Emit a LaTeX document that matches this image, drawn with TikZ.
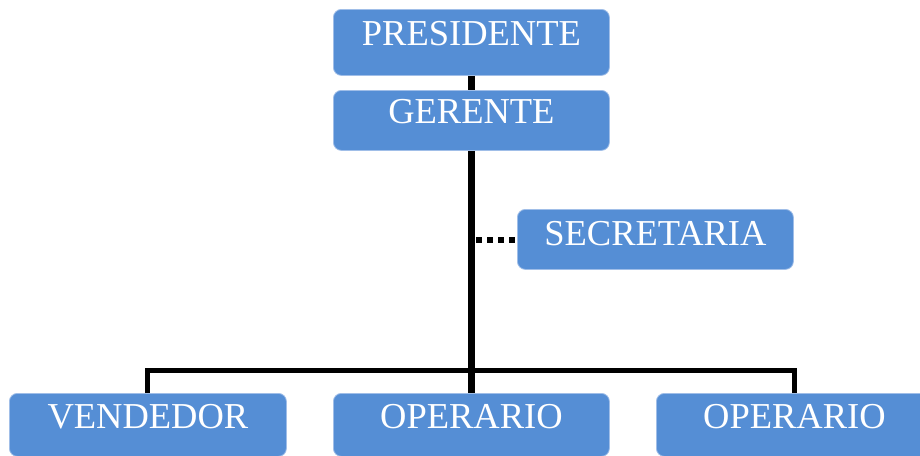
\documentclass[tikz,border=0pt]{standalone}
\usepackage{fontspec}
\setmainfont{Liberation Serif}
\definecolor{boxblue}{RGB}{85,142,213}
\definecolor{boxedge}{RGB}{160,190,232}
\begin{document}
\begin{tikzpicture}[x=1pt,y=-1pt,
  orgbox/.style={draw=boxedge, line width=0.8pt, fill=boxblue, rounded corners=8pt,
    text=white, inner sep=0pt, minimum width=276pt, anchor=north west,
    font=\fontsize{36.5}{40}\selectfont},
  mainline/.style={line width=6.5pt, black},
  busline/.style={line width=5pt, black},
  dotline/.style={line width=5.5pt, black, dash pattern=on 5.5pt off 5.5pt}]
\useasboundingbox (0,0) rectangle (920,455);
\node[orgbox, text height=36pt, text depth=30pt] (pres) at (333,9) {PRESIDENTE};
\node[orgbox, text height=33pt, text depth=27pt] (ger) at (333,90) {GERENTE};
\node[orgbox, text height=36pt, text depth=24pt] (sec) at (517,209) {SECRETARIA};
\node[orgbox, text height=35pt, text depth=28pt, minimum width=277pt] (vend) at (9,393) {VENDEDOR};
\node[orgbox, text height=35pt, text depth=28pt] (op1) at (333,393) {OPERARIO};
\node[orgbox, text height=35pt, text depth=28pt] (op2) at (656,393) {OPERARIO};
\coordinate (bus) at (471,370);
\coordinate (dotstart) at (476,240);
\draw[mainline] (pres.south) -- (ger.north);
\draw[mainline] (ger.south) -- (op1.north);
\draw[busline] (vend.north) |- (bus) -| (op2.north);
\draw[dotline] (dotstart) -- (sec.west |- dotstart);
\end{tikzpicture}
\end{document}
